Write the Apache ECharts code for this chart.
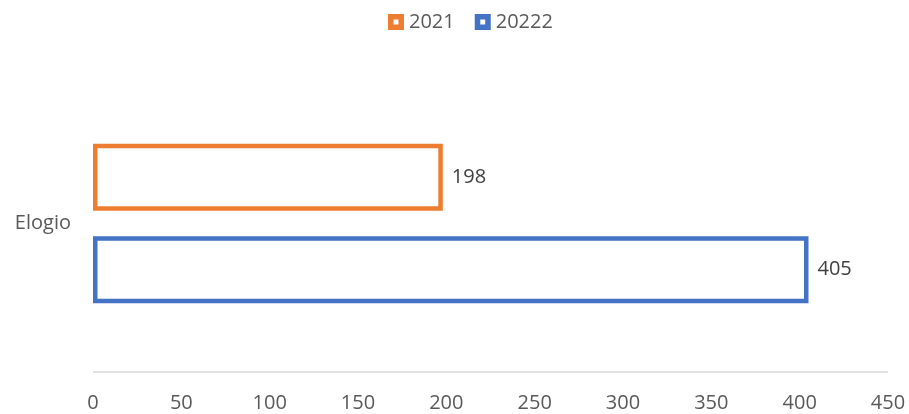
<!DOCTYPE html>
<html><head><meta charset="utf-8">
<script src="https://cdn.jsdelivr.net/npm/echarts@6/dist/echarts.min.js"></script>
<style>html,body{margin:0;padding:0;background:#fff}#c{width:909px;height:414px}</style>
</head><body><div id="c"></div>
<script>
const categories = ['Elogio'];
const seriesNames = ['2021', '20222'];
const values2021 = [198];
const values20222 = [405];
const xTicks = { min: 0, max: 450, interval: 50 };
const colors = ['#ED7D31', '#4472C4'];
const font = '"Open Sans", "Liberation Sans", sans-serif';
const frameIcon = 'path://M0,0H26V26H0Z M9,9V17H17V9Z';

const chart = echarts.init(document.getElementById('c'));
const mk = (name, data, color) => ({
  name, type: 'bar', data,
  barWidth: 67, barGap: '38%',
  itemStyle: { color: '#fff', borderColor: color, borderWidth: 4.5 },
  label: { show: true, position: 'right', distance: 9, color: '#404040', fontSize: 20, fontFamily: font }
});
chart.setOption({
  animation: false,
  legend: {
    top: 7, left: 383, itemWidth: 16, itemHeight: 16, itemGap: 20, symbolRotate: 0,
    textStyle: { color: '#595959', fontSize: 20, fontFamily: font },
    data: seriesNames.map((n, i) => ({ name: n, icon: frameIcon, itemStyle: { color: colors[i], borderWidth: 0 } }))
  },
  grid: { left: 93, right: 21, top: 75, bottom: 42 },
  xAxis: {
    type: 'value', min: xTicks.min, max: xTicks.max, interval: xTicks.interval,
    axisLine: { show: false }, axisTick: { show: false },
    splitLine: { show: false },
    axisLabel: { color: '#595959', fontSize: 20, fontFamily: font, margin: 21 }
  },
  yAxis: {
    type: 'category', data: categories, inverse: true,
    axisLine: { show: false }, axisTick: { show: false },
    axisLabel: { color: '#595959', fontSize: 20, fontFamily: font, margin: 22 }
  },
  series: [
    mk(seriesNames[0], values2021, colors[0]),
    mk(seriesNames[1], values20222, colors[1]),
    {
      type: 'line', silent: true, data: [],
      markLine: { silent: true, symbol: 'none', label: { show: false },
        lineStyle: { color: '#d9d9d9', width: 1.5, type: 'solid' },
        data: [[{ coord: [xTicks.min, 0], y: 372 }, { coord: [xTicks.max, 0], y: 372 }]] }
    }
  ]
});
</script></body></html>
